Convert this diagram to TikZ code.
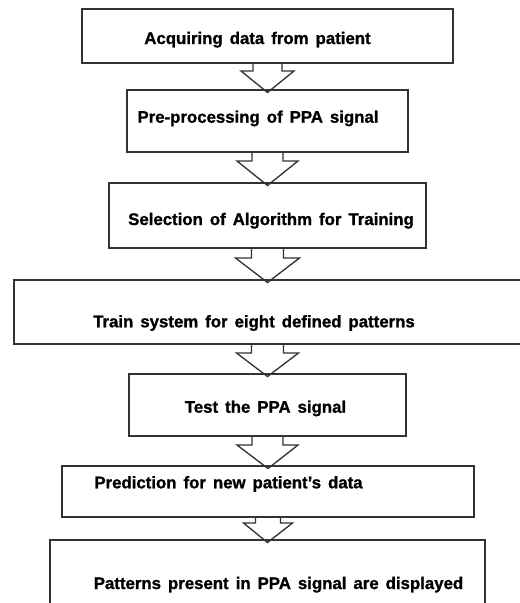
\documentclass[tikz,border=0pt]{standalone}
\usepackage{fontspec}
\setmainfont{Liberation Sans}[WordSpace=1.5, BoldFeatures={FakeBold=1.2}]
\usetikzlibrary{calc}

\newcommand{\px}{0.75pt}
% hollow block arrow: from box, to box, half shaft, half head, shaft length
\newcommand{\flowarrow}[5]{%
  \draw[arrowline] ($(#1.south)+(-#3,0)$) -- ++(0,#5)
    -- ($(#1.south)+(-#4,#5)$) -- ($(#2.north)+(0,2.5)$)
    -- ($(#1.south)+(#4,#5)$) -- ($(#1.south)+(#3,#5)$)
    -- ($(#1.south)+(#3,0)$);}

\tikzset{
  stepbox/.style={draw=black!80, line width=1pt, outer sep=0pt, inner sep=0pt},
  arrowline/.style={draw=black!80, line width=1pt, line join=miter},
  steptext/.style={anchor=base, inner sep=0pt, font=\fontsize{12.6}{14}\selectfont\bfseries}
}

\begin{document}
\begin{tikzpicture}[x=\px, y=-\px]
        \clip (0,0) rectangle (520,603);

        % boxes
        \node[stepbox, minimum width={371*\px}, minimum height={54*\px}] (b1) at (267.5, 36)   {}; % Acquire
        \node[stepbox, minimum width={281*\px}, minimum height={62*\px}] (b2) at (267.5, 121)  {}; % Pre-process
        \node[stepbox, minimum width={317*\px}, minimum height={65*\px}] (b3) at (267.5, 215.5){}; % Algorithm
        \node[stepbox, minimum width={507*\px}, minimum height={64*\px}] (b4) at (267.5, 312)  {}; % Train
        \node[stepbox, minimum width={277*\px}, minimum height={62*\px}] (b5) at (267.5, 405)  {}; % Test
        \node[stepbox, minimum width={412*\px}, minimum height={51*\px}] (b6) at (268,   491.5){}; % Predict
        \node[stepbox, minimum width={435*\px}, minimum height={85*\px}] (b7) at (267.5, 582.5){}; % Display

        % texts
        \node[steptext] (t1) at (257.5, 44)    {Acquiring data from patient};
        \node[steptext] (t2) at (258,   122.7) {Pre-processing of PPA signal};
        \node[steptext] (t3) at (271,   225)   {Selection of Algorithm for Training};
        \node[steptext] (t4) at (254,   327.3) {Train system for eight defined patterns};
        \node[steptext] (t5) at (265.5, 412.7) {Test the PPA signal};
        \node[steptext] (t6) at (228.5, 488.3) {Prediction for new patient’s data};
        \node[steptext] (t7) at (278.5, 589)   {Patterns present in PPA signal are displayed};

        % arrows
        \flowarrow{b1}{b2}{14.5}{26.5}{8}
        \flowarrow{b2}{b3}{15.5}{30.5}{9}
        \flowarrow{b3}{b4}{16}{32}{10}
        \flowarrow{b4}{b5}{16}{31}{9}
        \flowarrow{b5}{b6}{15.5}{30.5}{9}
        \flowarrow{b6}{b7}{12.5}{24.5}{6}
    \end{tikzpicture}
\end{document}
